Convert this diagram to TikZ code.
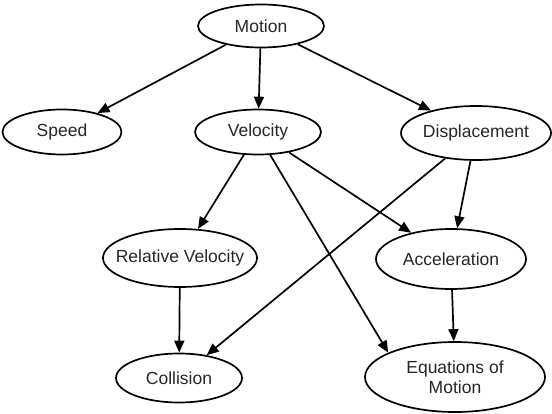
\documentclass[tikz,border=0pt]{standalone}
\usepackage{fontspec}
\setmainfont{Liberation Sans}
\usetikzlibrary{shapes.geometric,arrows.meta}
\tikzset{
  concept/.style={ellipse, draw, line width=1.7pt, inner ysep=0pt, inner xsep=-30pt, align=center,
    font=\fontsize{17.5}{20}\selectfont, text=black!85},
  link/.style={line width=1.7pt, -{Triangle[length=12pt,width=10pt]}}
}
\begin{document}
\begin{tikzpicture}[x=1pt,y=-1pt]
\useasboundingbox (0,0) rectangle (552,414);
\node[concept, minimum width=126pt, minimum height=43pt] (motion) at (261,26) {Motion};
\node[concept, minimum width=119pt, minimum height=45pt] (speed) at (62,132) {Speed};
\node[concept, minimum width=126pt, minimum height=45pt] (velocity) at (258,132) {Velocity};
\node[concept, minimum width=150pt, minimum height=54pt] (disp) at (476,133) {Displacement};
\node[concept, minimum width=154pt, minimum height=58pt] (relvel) at (180,258) {Relative Velocity};
\node[concept, minimum width=150pt, minimum height=60pt] (accel) at (451,259) {Acceleration};
\node[concept, minimum width=126pt, minimum height=49pt] (collision) at (179,378) {Collision};
\node[concept, minimum width=180pt, minimum height=70pt] (eqm) at (455,377) {Equations of\\Motion};
\draw[link] (motion) -- (speed);
\draw[link] (motion) -- (velocity);
\draw[link] (motion) -- (disp);
\draw[link] (velocity) -- (relvel);
\draw[link] (velocity) -- (accel);
\draw[link] (velocity.-62) -- (eqm.160);
\draw[link] (disp) -- (accel);
\draw[link] (disp) -- (collision);
\draw[link] (relvel) -- (collision);
\draw[link] (accel) -- (eqm);
\end{tikzpicture}
\end{document}
